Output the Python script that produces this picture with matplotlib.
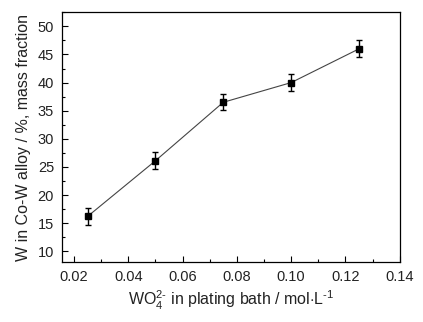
import matplotlib
matplotlib.use('Agg')
import matplotlib.pyplot as plt
from matplotlib.ticker import MultipleLocator

plt.rcParams['font.family'] = ['Liberation Sans', 'DejaVu Sans']
plt.rcParams['mathtext.fontset'] = 'custom'
plt.rcParams['mathtext.rm'] = 'Liberation Sans'

conc = [0.025, 0.05, 0.075, 0.10, 0.125]
w_frac = [16.2, 26.1, 36.5, 40.0, 46.0]
w_err = [1.5, 1.5, 1.4, 1.5, 1.5]

fig = plt.figure(figsize=(4.23, 3.22), dpi=100)
ax = fig.add_axes([0.146, 0.1863, 0.7996, 0.7755])

ax.plot(conc, w_frac, color='#444444', lw=0.8, zorder=2)
ax.errorbar(conc, w_frac, yerr=w_err, fmt='s', color='black', ms=4.5,
            ecolor='black', elinewidth=1.0, capsize=2.5, capthick=1.0, zorder=3)

ax.set_xlim(0.0155, 0.1401)
ax.set_ylim(8.1, 52.5)
ax.xaxis.set_major_locator(MultipleLocator(0.02))
ax.xaxis.set_minor_locator(MultipleLocator(0.01))
ax.yaxis.set_major_locator(MultipleLocator(5))
ax.yaxis.set_minor_locator(MultipleLocator(2.5))
ax.xaxis.set_major_formatter(lambda v, p: f'{v:.2f}')
ax.tick_params(which='both', direction='in', top=False, right=False,
               labelsize=10.5, labelcolor='#222222', width=0.8, pad=5.5)
ax.tick_params(which='major', length=4)
ax.tick_params(which='minor', length=2.5)
for s in ax.spines.values():
    s.set_linewidth(0.9)

ax.set_xlabel(r'WO$\mathregular{_4^{2\text{-}}}$ in plating bath / mol$\cdot$L$\mathregular{^{\text{-}1}}$',
              fontsize=11.5, color='#222222', labelpad=4)
ax.set_ylabel('W in Co-W alloy / %, mass fraction', fontsize=11.5,
              color='#222222', labelpad=5)

fig.savefig('out.png', dpi=100)
